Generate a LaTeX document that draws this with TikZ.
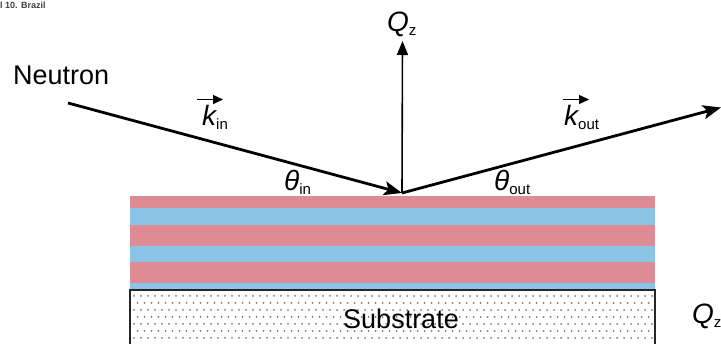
\documentclass[tikz,border=0pt]{standalone}
\usepackage{fontspec}
\setmainfont{Liberation Sans}
\usetikzlibrary{arrows.meta}
\definecolor{pinkL}{RGB}{221,140,150}
\definecolor{blueL}{RGB}{140,196,232}
\definecolor{dotC}{RGB}{120,120,120}
\newcommand{\subtxt}[1]{\raisebox{-4pt}{\fontsize{15}{15}\selectfont\upshape #1}}
\begin{document}
\begin{tikzpicture}[x=1pt,y=-1pt,
  ray/.style={line width=2.8pt, -{Stealth[length=18pt,width=14pt,inset=4pt]}},
  qaxis/.style={line width=1.6pt, black!75, -{Triangle[length=14pt,width=11pt]}, black},
  vecarr/.style={line width=1.5pt, -{Triangle[length=10pt,width=9pt]}},
  lbl/.style={inner sep=0pt, font=\fontsize{27}{30}\selectfont},
  sym/.style={inner sep=0pt, font=\fontsize{28}{30}\selectfont\itshape}
]
\useasboundingbox (0,0) rectangle (721,344);
\fill[white] (0,0) rectangle (721,344);

% header fragment
\node[inner sep=0pt, anchor=base west, font=\fontsize{9}{9}\selectfont\bfseries, text=black!75] (hdr) at (0,9) {l 10. Brazil};

% layers
\fill[pinkL] (130,196.5) rectangle (655,208);
\fill[blueL] (130,208) rectangle (655,225);
\fill[pinkL] (130,225) rectangle (655,246.5);
\fill[blueL] (130,246.5) rectangle (655,262.5);
\fill[pinkL] (130,262.5) rectangle (655,283);
\fill[blueL] (130,283) rectangle (655,290);

% substrate
\begin{scope}
\clip (130,290) rectangle (655,350);
\foreach \j in {0,...,8}{
  \foreach \i in {0,...,76}{
    \pgfmathsetmacro{\xx}{134+7*\i+3.5*mod(\j,2)}
    \pgfmathsetmacro{\yy}{296+7*\j}
    \fill[dotC] (\xx,\yy) circle (1.0);
  }
}
\end{scope}
\draw[line width=1.8pt, black!85] (130,350) -- (130,290) -- (655,290) -- (655,350);
\node[lbl, anchor=base] (sub) at (401,329) {Substrate};

% rays
\coordinate (src) at (68,103);
\coordinate (hit) at (402,193);
\coordinate (outp) at (721,107.5);
\coordinate (qtop) at (402.5,41);
\draw[qaxis] (hit) -- (qtop);
\draw[ray] (src) -- (hit);
\draw[ray] (hit) -- (outp);

% labels
\node[lbl, anchor=base west] (neu) at (13,85) {Neutron};
\node[sym, anchor=base west] (qz) at (387,32) {Q\subtxt{z}};
\node[sym, anchor=base west] (qz2) at (692,324) {Q\subtxt{z}};

\node[sym, anchor=base west] (kin) at (202,126) {k\subtxt{in}};
\node[sym, anchor=base west] (kout) at (564,126) {k\subtxt{out}};
\draw[vecarr] ([xshift=-5pt,yshift=6pt]kin.north west) -- ++(26,0);
\draw[vecarr] ([xshift=-1pt,yshift=6pt]kout.north west) -- ++(26,0);

\node[sym, anchor=base west] (thin) at (284,191) {θ\subtxt{in}};
\node[sym, anchor=base west] (thout) at (494,191) {θ\subtxt{out}};
\end{tikzpicture}
\end{document}
